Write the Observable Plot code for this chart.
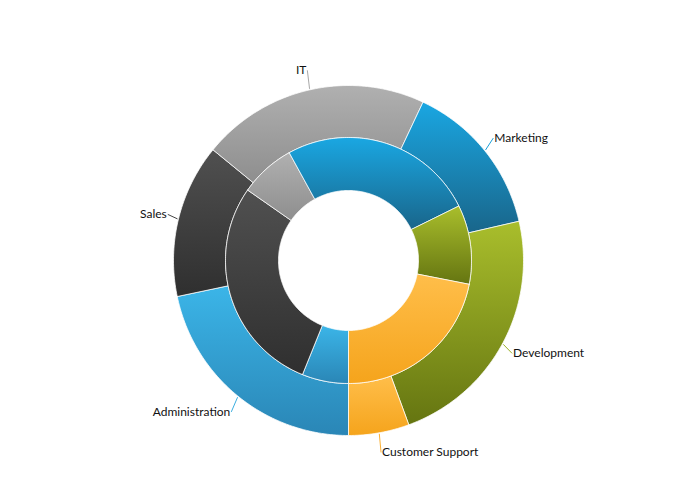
<!DOCTYPE html>
<html><head><meta charset="utf-8">
<script src="https://cdn.jsdelivr.net/npm/d3@7"></script>
<script src="https://cdn.jsdelivr.net/npm/@observablehq/plot@0.6"></script>
<style>body{margin:0;background:#fff}</style>
</head><body><div id="chart"></div>
<script>
const categories = ["Administration", "Sales", "IT", "Marketing", "Development", "Customer Support"];
const outerValues = [21.7, 14.2, 21.1, 14.4, 23.0, 5.6];
const innerValues = [6.1, 28.6, 7.3, 25.7, 10.4, 21.9];
const colorTop = ["#3bb5e8", "#505050", "#b0b0b0", "#1aa7e2", "#a9be2c", "#ffbe4a"];
const colorBottom = ["#2a86b6", "#2f2f2f", "#8e8e8e", "#19658a", "#657511", "#f5a41c"];
const lineColors = ["#3aaee0", "#444444", "#a8a8a8", "#1a9fd8", "#9aaf28", "#fbb034"];

function ring(values, r0, r1, name) {
  const total = d3.sum(values);
  let a = Math.PI;
  const pts = [], segs = [];
  values.forEach((v, i) => {
    const a0 = a, a1 = a + v / total * 2 * Math.PI; a = a1;
    const n = Math.max(2, Math.ceil((a1 - a0) / (Math.PI / 180)));
    const id = name + i;
    const seg = [];
    for (let k = 0; k <= n; k++) { const t = a0 + (a1 - a0) * k / n; seg.push({id, cat: i, x: r1 * Math.sin(t), y: -r1 * Math.cos(t)}); }
    for (let k = n; k >= 0; k--) { const t = a0 + (a1 - a0) * k / n; seg.push({id, cat: i, x: r0 * Math.sin(t), y: -r0 * Math.cos(t)}); }
    seg.push({...seg[0]});
    pts.push(...seg);
    segs.push({cat: i, mid: (a0 + a1) / 2});
  });
  return {pts, segs};
}

const outer = ring(outerValues, 123, 175, "o");
const inner = ring(innerValues, 70, 123, "i");

const labels = outer.segs.map(s => ({
  label: categories[s.cat],
  color: lineColors[s.cat],
  x1: 176 * Math.sin(s.mid), y1: -176 * Math.cos(s.mid),
  x2: 186 * Math.sin(s.mid), y2: -195 * Math.cos(s.mid),
  right: Math.sin(s.mid) >= 0
}));

const svg = Plot.plot({
  width: 700, height: 500, margin: 0,
  style: {fontFamily: "Lato, 'Open Sans', sans-serif", background: "#fff"},
  x: {domain: [-348, 352], axis: null},
  y: {domain: [-260, 240], range: [0, 500], axis: null},
  color: {type: "identity"},
  marks: [
    Plot.line(outer.pts, {x: "x", y: "y", z: "id", fill: d => `url(#grad${d.cat})`, stroke: "white", strokeWidth: 1, strokeOpacity: 0.75}),
    Plot.line(inner.pts, {x: "x", y: "y", z: "id", fill: d => `url(#grad${d.cat})`, stroke: "white", strokeWidth: 1, strokeOpacity: 0.75}),
    Plot.link(labels, {x1: "x1", y1: "y1", x2: "x2", y2: "y2", stroke: "color", strokeWidth: 1}),
    Plot.text(labels.filter(d => d.right), {x: "x2", y: "y2", text: "label", textAnchor: "start", dx: 1, dy: 0, fill: "#111", fontSize: 12}),
    Plot.text(labels.filter(d => !d.right), {x: "x2", y: "y2", text: "label", textAnchor: "end", dx: -1, dy: 0, fill: "#111", fontSize: 12})
  ]
});

const ns = "http://www.w3.org/2000/svg";
const defs = document.createElementNS(ns, "defs");
categories.forEach((c, i) => {
  const g = document.createElementNS(ns, "linearGradient");
  g.setAttribute("id", "grad" + i);
  g.setAttribute("x1", "0"); g.setAttribute("y1", "0");
  g.setAttribute("x2", "0"); g.setAttribute("y2", "1");
  [[0, colorTop[i]], [1, colorBottom[i]]].forEach(([o, col]) => {
    const s = document.createElementNS(ns, "stop");
    s.setAttribute("offset", o);
    s.setAttribute("stop-color", col);
    g.appendChild(s);
  });
  defs.appendChild(g);
});
svg.insertBefore(defs, svg.firstChild);
document.getElementById("chart").appendChild(svg);
</script>
</body></html>
